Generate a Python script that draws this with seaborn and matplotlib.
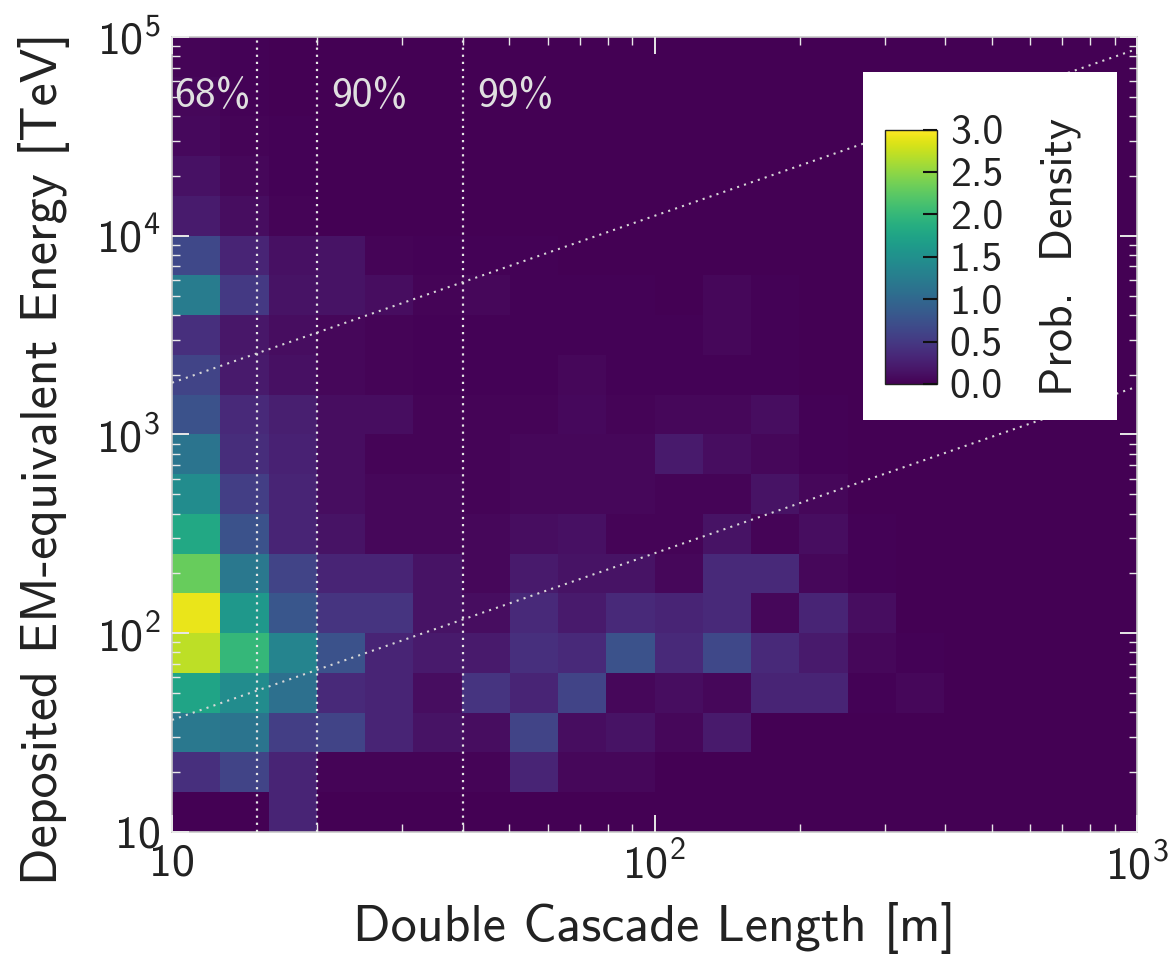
import numpy as np
import pandas as pd
import matplotlib
matplotlib.use("Agg")
import matplotlib.pyplot as plt
import seaborn as sns
from matplotlib.ticker import FuncFormatter, FixedLocator, LogLocator

# ---------------- data ----------------
# log10 bin edges of the 2D histogram
length_edges_log10 = [1.0, 1.1, 1.2, 1.3, 1.4, 1.5, 1.6, 1.7, 1.8, 1.9, 2.0,
                      2.1, 2.2, 2.3, 2.4, 2.5, 2.6, 2.7, 2.8, 2.9, 3.0]
energy_edges_log10 = [1.0, 1.2, 1.4, 1.6, 1.8, 2.0, 2.2, 2.4, 2.6, 2.8, 3.0,
                      3.2, 3.4, 3.6, 3.8, 4.0, 4.2, 4.4, 4.6, 4.8, 5.0]

# probability density, one row per energy bin (lowest energy first),
# one entry per length bin (10 m ... 1000 m)
prob_density = [
    [0.00, 0.00, 0.30, 0.00, 0.00, 0.00, 0.00, 0.00, 0.00, 0.00, 0.00, 0.00, 0.00, 0.00, 0.00, 0.00, 0.00, 0.00, 0.00, 0.00],
    [0.40, 0.60, 0.30, 0.03, 0.03, 0.03, 0.03, 0.30, 0.05, 0.05, 0.00, 0.00, 0.00, 0.00, 0.00, 0.00, 0.00, 0.00, 0.00, 0.00],
    [1.20, 1.15, 0.55, 0.60, 0.30, 0.15, 0.10, 0.60, 0.10, 0.15, 0.05, 0.20, 0.00, 0.00, 0.00, 0.00, 0.00, 0.00, 0.00, 0.00],
    [1.75, 1.45, 1.10, 0.35, 0.30, 0.10, 0.45, 0.30, 0.60, 0.05, 0.10, 0.05, 0.30, 0.30, 0.02, 0.05, 0.00, 0.00, 0.00, 0.00],
    [2.70, 2.00, 1.35, 0.75, 0.30, 0.20, 0.20, 0.40, 0.35, 0.75, 0.35, 0.65, 0.35, 0.20, 0.05, 0.02, 0.00, 0.00, 0.00, 0.00],
    [2.90, 1.60, 0.80, 0.45, 0.45, 0.15, 0.10, 0.35, 0.20, 0.35, 0.30, 0.35, 0.05, 0.30, 0.10, 0.00, 0.00, 0.00, 0.00, 0.00],
    [2.30, 1.20, 0.60, 0.30, 0.30, 0.15, 0.05, 0.20, 0.15, 0.15, 0.05, 0.35, 0.35, 0.05, 0.02, 0.00, 0.00, 0.00, 0.00, 0.00],
    [1.80, 0.75, 0.30, 0.15, 0.05, 0.05, 0.05, 0.10, 0.12, 0.03, 0.03, 0.15, 0.03, 0.10, 0.02, 0.00, 0.00, 0.00, 0.00, 0.00],
    [1.45, 0.55, 0.30, 0.10, 0.05, 0.05, 0.03, 0.05, 0.05, 0.05, 0.03, 0.03, 0.15, 0.05, 0.00, 0.00, 0.00, 0.00, 0.00, 0.00],
    [1.15, 0.38, 0.28, 0.10, 0.03, 0.03, 0.03, 0.05, 0.05, 0.05, 0.20, 0.10, 0.05, 0.02, 0.00, 0.00, 0.00, 0.00, 0.00, 0.00],
    [0.75, 0.35, 0.25, 0.10, 0.10, 0.03, 0.03, 0.03, 0.07, 0.03, 0.05, 0.05, 0.10, 0.02, 0.00, 0.00, 0.00, 0.00, 0.00, 0.00],
    [0.60, 0.20, 0.12, 0.05, 0.03, 0.02, 0.02, 0.02, 0.05, 0.02, 0.02, 0.02, 0.02, 0.00, 0.00, 0.00, 0.00, 0.00, 0.00, 0.00],
    [0.40, 0.18, 0.10, 0.05, 0.03, 0.02, 0.02, 0.02, 0.02, 0.02, 0.02, 0.05, 0.02, 0.00, 0.00, 0.00, 0.00, 0.00, 0.00, 0.00],
    [1.25, 0.50, 0.15, 0.15, 0.10, 0.03, 0.05, 0.02, 0.02, 0.02, 0.00, 0.05, 0.02, 0.00, 0.00, 0.00, 0.00, 0.00, 0.00, 0.00],
    [0.65, 0.30, 0.12, 0.15, 0.03, 0.02, 0.02, 0.02, 0.00, 0.00, 0.00, 0.00, 0.00, 0.00, 0.00, 0.00, 0.00, 0.00, 0.00, 0.00],
    [0.22, 0.10, 0.03, 0.00, 0.00, 0.00, 0.00, 0.00, 0.00, 0.00, 0.00, 0.00, 0.00, 0.00, 0.00, 0.00, 0.00, 0.00, 0.00, 0.00],
    [0.14, 0.05, 0.02, 0.00, 0.00, 0.00, 0.00, 0.00, 0.00, 0.00, 0.00, 0.00, 0.00, 0.00, 0.00, 0.00, 0.00, 0.00, 0.00, 0.00],
    [0.07, 0.03, 0.02, 0.00, 0.00, 0.00, 0.00, 0.00, 0.00, 0.00, 0.00, 0.00, 0.00, 0.00, 0.00, 0.00, 0.00, 0.00, 0.00, 0.00],
    [0.05, 0.02, 0.00, 0.00, 0.00, 0.00, 0.00, 0.00, 0.00, 0.00, 0.00, 0.00, 0.00, 0.00, 0.00, 0.00, 0.00, 0.00, 0.00, 0.00],
    [0.03, 0.02, 0.00, 0.00, 0.00, 0.00, 0.00, 0.00, 0.00, 0.00, 0.00, 0.00, 0.00, 0.00, 0.00, 0.00, 0.00, 0.00, 0.00, 0.00],
]

# containment lengths (vertical dotted lines) and their labels
containment_lengths = [15.0, 20.0, 40.0]
containment_labels = ["68%", "90%", "99%"]
containment_label_x = [12.1, 25.7, 51.4]
containment_label_y = 50000.0

# diagonal dotted reference lines (length [m] -> energy [TeV])
band_length = [10.0, 1000.0]
band_upper_energy = [1820.0, 87000.0]
band_lower_energy = [36.6, 1740.0]

cbar_ticks = [0.0, 0.5, 1.0, 1.5, 2.0, 2.5, 3.0]
x_ticks = [10, 100, 1000]
y_ticks = [10, 100, 1000, 10000, 100000]

# ---------------- long-form table ----------------
rows = []
for i, row in enumerate(prob_density):
    ey = 10 ** (0.5 * (energy_edges_log10[i] + energy_edges_log10[i + 1]))
    for j, v in enumerate(row):
        lx = 10 ** (0.5 * (length_edges_log10[j] + length_edges_log10[j + 1]))
        rows.append((lx, ey, v))
df = pd.DataFrame(rows, columns=["length", "energy", "density"])

# ---------------- style ----------------
sns.set_style("ticks")
plt.rcParams["font.family"] = ["cmss10", "DejaVu Sans"]
plt.rcParams["mathtext.fontset"] = "custom"
plt.rcParams["mathtext.rm"] = "cmss10"
plt.rcParams["mathtext.sf"] = "cmss10"
plt.rcParams["axes.unicode_minus"] = False
plt.rcParams["axes.formatter.use_mathtext"] = True

text_color = "#222222"

fig = plt.figure(figsize=(11.76, 9.64), dpi=100)
ax = fig.add_axes([0.1463, 0.137, 0.8206, 0.8247])

# white inset box for the colour bar
box = ax.inset_axes([0.716, 0.518, 0.263, 0.438])
box.set_facecolor("white")
box.set_xticks([])
box.set_yticks([])
for s in box.spines.values():
    s.set_visible(False)
box.set_zorder(4)
cax = ax.inset_axes([0.739, 0.5635, 0.054, 0.32])
cax.set_zorder(5)

sns.histplot(
    data=df, x="length", y="energy", weights="density",
    bins=(length_edges_log10, energy_edges_log10),
    log_scale=(True, True), stat="count", thresh=None,
    cmap="viridis", vmin=0, vmax=3,
    cbar=True, cbar_ax=cax, cbar_kws=dict(ticks=cbar_ticks),
    ax=ax,
)

# vertical containment lines
for L, lab, lx in zip(containment_lengths, containment_labels, containment_label_x):
    ax.axvline(L, color="#e6e6e6", linestyle=(0, (1, 2.2)), linewidth=1.6, zorder=3)
    ax.text(lx, containment_label_y, lab, color="#e0e0e0", fontsize=30,
            ha="center", va="center", zorder=3)

# diagonal dotted lines
sns.lineplot(x=band_length, y=band_upper_energy, ax=ax, color="#d8d8d8",
             linestyle=(0, (1, 2.5)), linewidth=1.5, zorder=3)
sns.lineplot(x=band_length, y=band_lower_energy, ax=ax, color="#d8d8d8",
             linestyle=(0, (1, 2.5)), linewidth=1.5, zorder=3)
ax.set_xlim(10, 1000)
ax.set_ylim(10, 1e5)
ax.set_axisbelow(False)


def log_fmt(v, pos):
    e = int(round(np.log10(v)))
    if e == 1:
        return "10"
    return r"$\mathdefault{10^{%d}}$" % e


ax.xaxis.set_major_locator(FixedLocator(x_ticks))
ax.yaxis.set_major_locator(FixedLocator(y_ticks))
ax.xaxis.set_major_formatter(FuncFormatter(log_fmt))
ax.yaxis.set_major_formatter(FuncFormatter(log_fmt))
ax.xaxis.set_minor_locator(LogLocator(base=10, subs=np.arange(2, 10), numticks=20))
ax.yaxis.set_minor_locator(LogLocator(base=10, subs=np.arange(2, 10), numticks=20))

ax.tick_params(which="both", direction="in", top=True, right=True,
               color="#e8e8e8", labelcolor=text_color, labelsize=33)
ax.tick_params(which="major", length=12, width=1.4, pad=8)
ax.tick_params(which="minor", length=6, width=1.0)
for s in ax.spines.values():
    s.set_color("#c8c8c8")
    s.set_linewidth(1.2)

ax.set_xlabel("Double Cascade Length [m]", fontsize=37.5, color=text_color, labelpad=10)
ax.set_ylabel("Deposited EM-equivalent Energy [TeV]", fontsize=37.5, color=text_color)
ax.yaxis.set_label_coords(-0.106, 0.47)

# colour bar styling
cax.set_axisbelow(False)
cax.tick_params(direction="in", length=10, width=1.5, color="#111111",
                labelsize=30, labelcolor=text_color, pad=9)
cax.yaxis.set_major_formatter(FuncFormatter(lambda v, p: "%.1f" % v))
cax.yaxis.set_minor_locator(FixedLocator([]))
for s in cax.spines.values():
    s.set_color("#222222")
    s.set_linewidth(1.0)
cax.set_ylabel("Prob.  Density", fontsize=33, color=text_color, labelpad=26)
cax.yaxis.set_label_position("right")

fig.savefig("out.png", dpi=100)
